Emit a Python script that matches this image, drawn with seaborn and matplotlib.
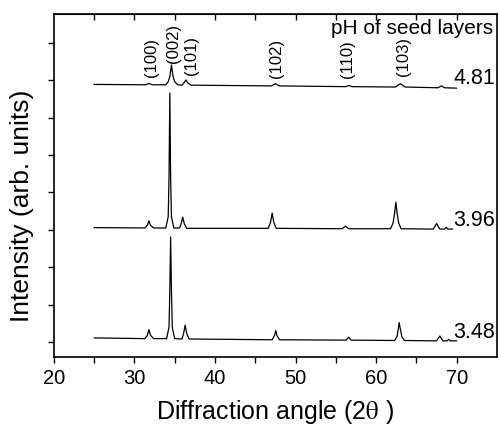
import pandas as pd
import matplotlib
matplotlib.use("Agg")
import matplotlib.pyplot as plt
import seaborn as sns

# ---------------- DATA ----------------
# pH 3.48 pattern
x_348 = [25.0, 31.3, 31.6, 31.8, 32.0, 32.4, 34.0, 34.3, 34.4, 34.5, 34.6, 34.7, 35.0,
         35.9, 36.1, 36.3, 36.5, 36.8, 47.1, 47.4, 47.55, 47.7, 48.0, 56.3, 56.6, 56.9,
         62.3, 62.6, 62.75, 62.85, 63.0, 63.2, 63.5, 67.5, 67.9, 68.3, 68.8, 69.0, 69.2, 70.0]
y_348 = [1.11, 1.09, 1.17, 1.33, 1.18, 1.09, 1.09, 1.40, 2.40, 3.81, 2.40, 1.40, 1.09,
         1.08, 1.22, 1.45, 1.22, 1.08, 1.06, 1.18, 1.31, 1.17, 1.06, 1.05, 1.13, 1.05,
         1.04, 1.15, 1.35, 1.52, 1.35, 1.14, 1.04, 1.03, 1.16, 1.03, 1.03, 1.07, 1.03, 1.03]

# pH 3.96 pattern
x_396 = [25.0, 31.3, 31.6, 31.8, 32.0, 32.4, 33.9, 34.2, 34.3, 34.4, 34.5, 34.6, 34.9,
         35.6, 35.8, 36.0, 36.2, 36.5, 46.6, 46.9, 47.1, 47.3, 47.6, 55.8, 56.2, 56.6,
         61.8, 62.1, 62.3, 62.45, 62.6, 62.8, 63.1, 67.1, 67.5, 67.9, 68.5, 68.7, 68.9, 69.5]
y_396 = [4.06, 4.05, 4.12, 4.24, 4.12, 4.05, 4.05, 4.35, 5.40, 7.66, 5.40, 4.35, 4.05,
         4.05, 4.16, 4.34, 4.16, 4.04, 4.04, 4.20, 4.45, 4.20, 4.04, 4.03, 4.10, 4.03,
         4.03, 4.18, 4.45, 4.74, 4.45, 4.18, 4.03, 4.02, 4.17, 4.02, 4.02, 4.07, 4.02, 4.02]

# pH 4.81 pattern
x_481 = [25.0, 31.4, 31.8, 32.2, 33.9, 34.2, 34.4, 34.6, 34.8, 35.0, 35.4, 35.9, 36.15,
         36.4, 36.65, 37.0, 47.0, 47.5, 48.0, 56.2, 56.6, 57.0, 62.4, 63.0, 63.6, 67.7,
         68.1, 68.5, 70.0]
y_481 = [7.89, 7.88, 7.92, 7.88, 7.88, 7.96, 8.10, 8.41, 8.10, 7.96, 7.88, 7.87, 7.93,
         8.01, 7.93, 7.87, 7.85, 7.91, 7.85, 7.83, 7.86, 7.83, 7.82, 7.91, 7.82, 7.80,
         7.85, 7.80, 7.79]

ph_labels = ["3.48", "3.96", "4.81"]
ph_label_y = [1.25, 4.25, 8.05]

peak_names = ["(100)", "(002)", "(101)", "(102)", "(110)", "(103)"]
peak_x = [32.1, 34.8, 37.1, 47.6, 56.5, 63.4]
peak_label_y = [8.1, 8.47, 8.14, 8.05, 8.05, 8.12]

# ---------------- PLOT ----------------
sns.set_style("ticks")
plt.rcParams["font.family"] = ["Liberation Sans", "DejaVu Sans"]
plt.rcParams["mathtext.fontset"] = "stix"
for key in ["text.color", "axes.labelcolor", "xtick.color", "ytick.color", "axes.edgecolor"]:
    plt.rcParams[key] = "black"

fig = plt.figure(figsize=(4.98, 4.28), dpi=100)
ax = fig.add_axes([0.108, 0.166, 0.890, 0.801])

for xs, ys in [(x_348, y_348), (x_396, y_396), (x_481, y_481)]:
    df = pd.DataFrame({"angle": xs, "intensity": ys})
    sns.lineplot(data=df, x="angle", y="intensity", ax=ax, color="black",
                 linewidth=0.9, estimator=None, sort=False)

for lab, yy in zip(ph_labels, ph_label_y):
    ax.text(74.8, yy, lab, ha="right", va="center", fontsize=15.5)

for name, px, py in zip(peak_names, peak_x, peak_label_y):
    ax.text(px, py, name, rotation=90, ha="center", va="bottom", fontsize=12)

ax.text(0.992, 0.985, "pH of seed layers", transform=ax.transAxes,
        ha="right", va="top", fontsize=15)

ax.set_xlim(20, 75)
ax.set_ylim(0.6, 9.77)
ax.set_xticks([20, 30, 40, 50, 60, 70])
ax.set_xticks([25, 35, 45, 55, 65], minor=True)
ax.set_yticks(range(1, 10))
ax.set_yticklabels([])
ax.tick_params(axis="x", which="both", direction="out", length=4.5, width=1,
               labelsize=14.5, pad=4)
ax.tick_params(axis="y", direction="out", length=4.5, width=1)

top = ax.secondary_xaxis("top")
top.set_xticks(range(25, 71, 5))
top.tick_params(direction="in", length=4.5, width=1, labeltop=False)

for s in ax.spines.values():
    s.set_linewidth(1.2)
    s.set_visible(True)

ax.set_xlabel("Diffraction angle (2$\\mathrm{\\theta}$ )", fontsize=18)
ax.xaxis.set_label_coords(0.5, -0.12)
ax.set_ylabel("Intensity (arb. units)", fontsize=19)
ax.yaxis.set_label_coords(-0.045, 0.44)

fig.savefig("out.png", dpi=100)
